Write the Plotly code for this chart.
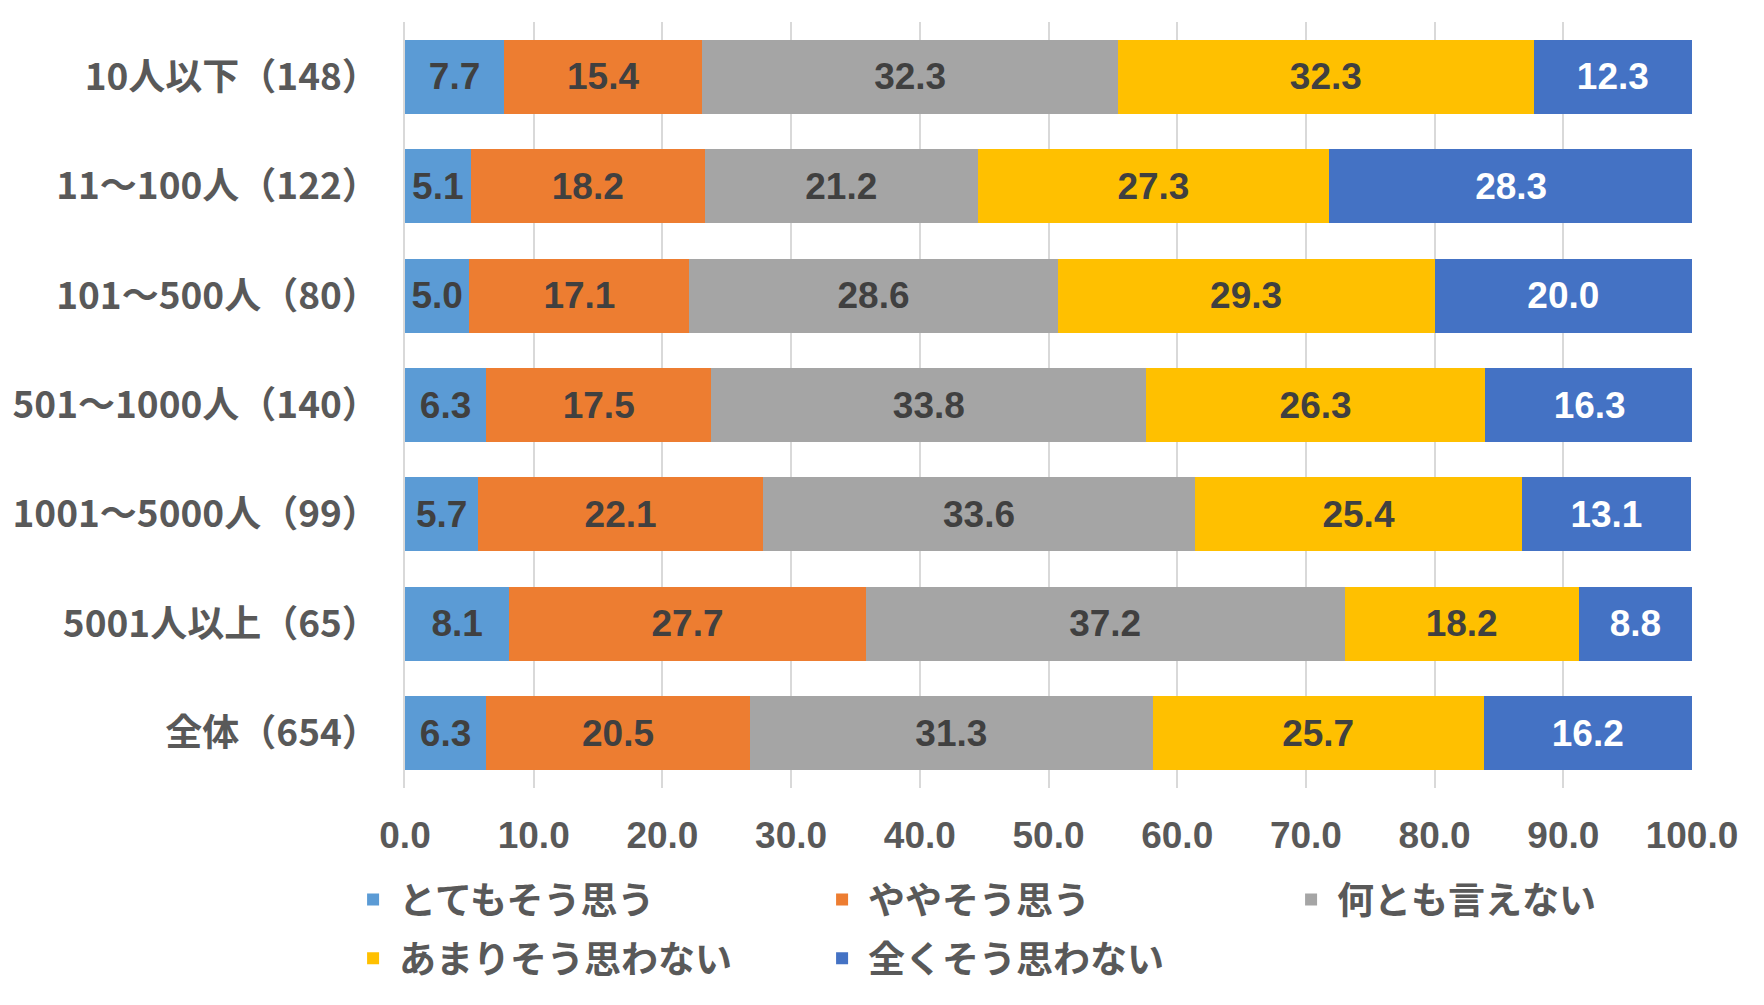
import plotly.graph_objects as go

# categories (top to bottom)
groups = ["10人以下（148）", "11～100人（122）", "101～500人（80）", "501～1000人（140）",
          "1001～5000人（99）", "5001人以上（65）", "全体（654）"]

# answer shares (%)
totemo = [7.7, 5.1, 5.0, 6.3, 5.7, 8.1, 6.3]
yaya = [15.4, 18.2, 17.1, 17.5, 22.1, 27.7, 20.5]
nantomo = [32.3, 21.2, 28.6, 33.8, 33.6, 37.2, 31.3]
amari = [32.3, 27.3, 29.3, 26.3, 25.4, 18.2, 25.7]
mattaku = [12.3, 28.3, 20.0, 16.3, 13.1, 8.8, 16.2]

series = [
    ("とてもそう思う", totemo, "#5B9BD5", "#404040", "legend"),
    ("ややそう思う", yaya, "#ED7D31", "#404040", "legend"),
    ("何とも言えない", nantomo, "#A5A5A5", "#404040", "legend"),
    ("あまりそう思わない", amari, "#FFC000", "#404040", "legend2"),
    ("全くそう思わない", mattaku, "#4472C4", "#FFFFFF", "legend2"),
]

fig = go.Figure()
for name, vals, color, tcolor, leg in series:
    fig.add_trace(go.Bar(
        y=groups, x=vals, name=name, orientation="h", legend=leg,
        marker=dict(color=color, line=dict(width=0)),
        texttemplate="%{x:.1f}", textposition="inside", insidetextanchor="middle",
        textangle=0, constraintext="none",
        textfont=dict(family="Liberation Sans", size=37, color=tcolor, weight="bold"),
    ))

legend_style = dict(
    orientation="h", x=-0.045, xanchor="left", yanchor="middle",
    entrywidth=412, itemwidth=42, traceorder="normal", bgcolor="rgba(0,0,0,0)",
    font=dict(family="Noto Sans CJK JP", size=37, color="#595959", weight="bold"),
)

fig.update_layout(
    barmode="stack", bargap=0.324,
    width=1764, height=1005,
    margin=dict(l=397, r=80, t=14, b=225),
    plot_bgcolor="white", paper_bgcolor="white",
    font=dict(family="Noto Sans CJK JP", color="#595959"),
    legend=dict(legend_style, y=-0.146),
    legend2=dict(legend_style, y=-0.223),
)
fig.update_xaxes(
    range=[0, 100], dtick=10, tickformat=".1f",
    showgrid=True, gridcolor="#D9D9D9", gridwidth=1.5,
    zeroline=False, showline=False, ticks="", automargin=False,
    ticklabelstandoff=22,
    tickfont=dict(family="Liberation Sans", size=37, color="#595959", weight="bold"),
)
fig.update_yaxes(
    autorange="reversed", showline=True, linecolor="#D9D9D9", linewidth=1.5,
    ticks="", ticklabelstandoff=17, automargin=False,
    tickfont=dict(family="Noto Sans CJK JP", size=37, color="#595959", weight="bold"),
)

fig.write_html("out.html")
